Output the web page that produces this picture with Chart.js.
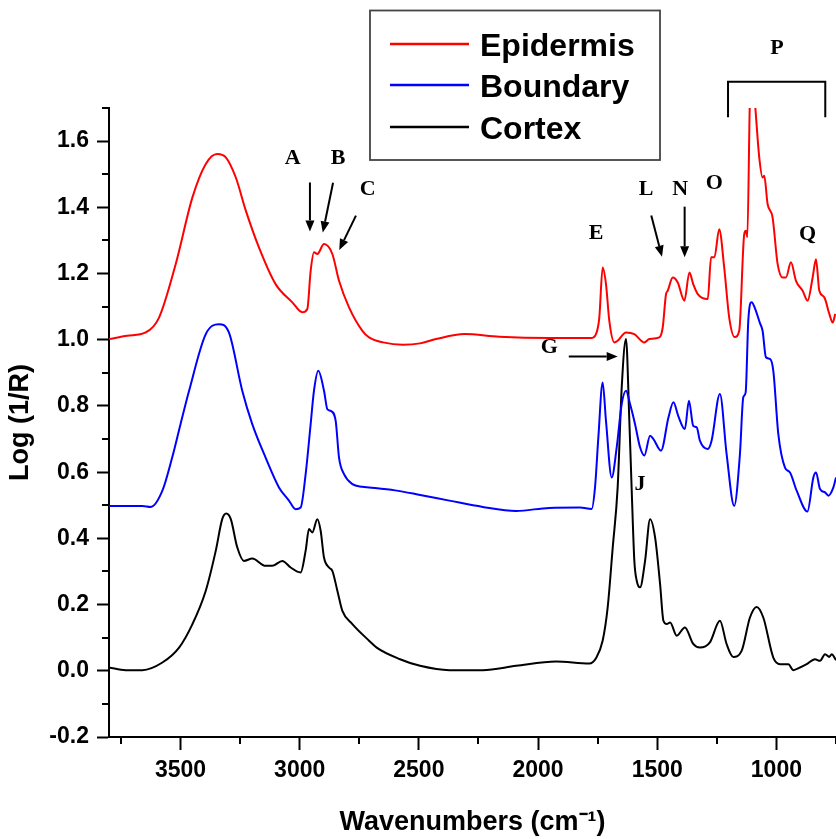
<!DOCTYPE html>
<html>
<head>
<meta charset="utf-8">
<script src="https://cdn.jsdelivr.net/npm/chart.js@4.4.1/dist/chart.umd.min.js"></script>
<style>
  html, body { margin: 0; padding: 0; background: #ffffff; }
  #wrap { width: 836px; height: 839px; }
</style>
</head>
<body>
<div id="wrap"><canvas id="c" width="836" height="839"></canvas></div>
<script>
// ---------- DATA ----------
const seriesNames = ['Epidermis', 'Boundary', 'Cortex'];

const epidermisWavenumbers = [3800,3723,3646,3590,3520,3450,3394,3346,3310,3268,3226,3171,3101,3031,2989,2968,2954,2940,2926,2898,2863,2835,2793,2737,2709,2650,2567,2495,2428,2309,2163,1953,1778,1757,1743,1729,1715,1701,1680,1666,1631,1596,1554,1533,1491,1477,1463,1456,1435,1414,1386,1365,1349,1330,1288,1274,1260,1240,1219,1198,1175,1156,1135,1128,1122,1110,1100,1093,1072,1058,1051,1037,1016,995,974,960,939,918,890,869,848,834,820,799,778,764,753];
const epidermisValues = [1.002,1.012,1.022,1.067,1.229,1.430,1.531,1.561,1.551,1.490,1.390,1.279,1.168,1.113,1.083,1.093,1.208,1.264,1.259,1.289,1.259,1.178,1.098,1.027,1.007,0.992,0.985,0.989,1.002,1.017,1.009,1.005,1.005,1.017,1.067,1.218,1.168,1.057,0.992,0.997,1.022,1.017,0.992,1.002,1.007,1.037,1.138,1.148,1.188,1.173,1.118,1.203,1.168,1.138,1.123,1.249,1.249,1.334,1.218,1.067,1.008,1.027,1.319,1.329,1.310,1.750,1.780,1.740,1.551,1.490,1.495,1.410,1.369,1.229,1.188,1.188,1.234,1.178,1.148,1.118,1.188,1.243,1.148,1.128,1.078,1.052,1.078];

const boundaryWavenumbers = [3800,3660,3625,3576,3535,3500,3464,3394,3339,3297,3241,3199,3143,3087,3045,3017,2996,2975,2954,2940,2922,2898,2884,2870,2849,2835,2814,2779,2737,2709,2600,2500,2372,2232,2092,1953,1824,1775,1761,1747,1729,1715,1691,1670,1649,1631,1614,1593,1572,1554,1530,1516,1484,1453,1432,1412,1384,1367,1349,1334,1321,1288,1272,1237,1209,1177,1153,1139,1129,1118,1104,1090,1069,1058,1044,1027,1013,992,964,943,915,870,845,834,817,796,782,761,750];
const boundaryValues = [0.498,0.498,0.495,0.544,0.644,0.745,0.846,1.017,1.047,1.022,0.846,0.745,0.644,0.554,0.514,0.488,0.493,0.594,0.745,0.846,0.906,0.846,0.790,0.785,0.755,0.644,0.594,0.564,0.556,0.554,0.545,0.532,0.514,0.495,0.483,0.492,0.493,0.489,0.554,0.705,0.871,0.755,0.584,0.675,0.806,0.846,0.806,0.745,0.675,0.650,0.710,0.700,0.665,0.765,0.811,0.770,0.730,0.816,0.740,0.735,0.695,0.670,0.695,0.836,0.655,0.498,0.655,0.826,0.841,1.057,1.113,1.095,1.050,1.027,0.947,0.942,0.906,0.715,0.614,0.599,0.544,0.481,0.584,0.599,0.549,0.539,0.529,0.554,0.584];

const cortexWavenumbers = [3800,3730,3660,3576,3506,3450,3394,3352,3325,3308,3289,3262,3234,3199,3143,3115,3073,3038,2996,2975,2961,2947,2926,2912,2898,2877,2863,2842,2821,2779,2709,2677,2579,2495,2372,2232,2092,1925,1785,1757,1729,1708,1687,1666,1649,1631,1617,1607,1596,1586,1572,1551,1530,1509,1488,1474,1460,1446,1418,1384,1349,1321,1279,1237,1209,1181,1146,1111,1083,1055,1013,985,950,929,901,873,838,817,796,778,768,750];
const cortexValues = [0.010,0.002,0.002,0.025,0.070,0.141,0.242,0.363,0.458,0.475,0.458,0.373,0.332,0.339,0.317,0.317,0.332,0.312,0.297,0.363,0.428,0.418,0.458,0.423,0.342,0.312,0.302,0.242,0.181,0.141,0.091,0.070,0.035,0.015,0.002,0.002,0.015,0.028,0.022,0.038,0.091,0.191,0.370,0.554,0.856,1.002,0.755,0.544,0.332,0.272,0.252,0.332,0.458,0.403,0.262,0.151,0.141,0.146,0.106,0.131,0.081,0.070,0.086,0.151,0.081,0.042,0.060,0.161,0.193,0.161,0.040,0.020,0.020,0.002,0.010,0.020,0.035,0.030,0.050,0.042,0.050,0.032];

const xTickValues = [3750,3500,3250,3000,2750,2500,2250,2000,1750,1500,1250,1000,750];
const xTickLabels = ['3500','3000','2500','2000','1500','1000'];
const yTickValues = [-0.2,-0.1,0.0,0.1,0.2,0.3,0.4,0.5,0.6,0.7,0.8,0.9,1.0,1.1,1.2,1.3,1.4,1.5,1.6,1.7];
const yTickLabels = ['-0.2','0.0','0.2','0.4','0.6','0.8','1.0','1.2','1.4','1.6'];

// peak annotations (text, wavenumber, value)
const peakLabels = [
  ['A', 3029, 1.547], ['B', 2839, 1.547], ['C', 2715, 1.453],
  ['E', 1757, 1.320], ['G', 1953, 0.977], ['L', 1547, 1.455],
  ['N', 1404, 1.455], ['O', 1261, 1.472], ['P', 998, 1.880],
  ['Q', 869, 1.319], ['J', 1572, 0.564]
];
// arrows: [fromWavenumber, fromValue, toWavenumber, toValue]
const peakArrows = [
  [2957, 1.475, 2957, 1.327],
  [2860, 1.474, 2903, 1.324],
  [2764, 1.375, 2834, 1.271],
  [1871, 0.949, 1666, 0.949],
  [1525, 1.375, 1480, 1.251],
  [1385, 1.402, 1385, 1.249]
];
// bracket for P: [leftWavenumber, rightWavenumber, topValue, legBottomValue]
const bracketP = [1203, 795, 1.779, 1.672];

// ---------- BUILD ----------
function pts(xs, ys) { return xs.map((x, i) => ({ x: x, y: ys[i] })); }
const colors = ['#ff0000', '#0000ff', '#000000'];
const seriesData = [
  pts(epidermisWavenumbers, epidermisValues),
  pts(boundaryWavenumbers, boundaryValues),
  pts(cortexWavenumbers, cortexValues)
];

const isMajorX = v => xTickLabels.indexOf(String(v)) >= 0;
const fmtY = v => (Math.round(v * 10) / 10).toFixed(1);
const isMajorY = v => yTickLabels.indexOf(fmtY(v)) >= 0;

const axisFont = { family: 'Liberation Sans, Arial, sans-serif', weight: 'bold', size: 23 };
const titleFont = { family: 'Liberation Sans, Arial, sans-serif', weight: 'bold', size: 27 };

const extrasPlugin = {
  id: 'extras',
  afterDraw(chart) {
    const ctx = chart.ctx;
    const xs = chart.scales.x, ys = chart.scales.y;
    const area = chart.chartArea;
    ctx.save();
    // minor ticks
    ctx.strokeStyle = '#000'; ctx.lineWidth = 2;
    xTickValues.forEach(v => {
      if (isMajorX(v)) return;
      const px = Math.round(xs.getPixelForValue(v));
      ctx.beginPath(); ctx.moveTo(px, area.bottom); ctx.lineTo(px, area.bottom + 7); ctx.stroke();
    });
    yTickValues.forEach(v => {
      if (isMajorY(v)) return;
      const py = Math.round(ys.getPixelForValue(v));
      ctx.beginPath(); ctx.moveTo(area.left - 7, py); ctx.lineTo(area.left, py); ctx.stroke();
    });

    // legend box
    const lx = 370, ly = 10.5, lw = 290, lh = 149.5;
    ctx.fillStyle = '#fff'; ctx.fillRect(lx, ly, lw, lh);
    ctx.strokeStyle = '#444'; ctx.lineWidth = 1.8; ctx.strokeRect(lx, ly, lw, lh);
    const rowsY = [44, 85, 127];
    chart.data.datasets.forEach((ds, i) => {
      const y = rowsY[i];
      ctx.strokeStyle = ds.borderColor; ctx.lineWidth = 2.5;
      ctx.beginPath(); ctx.moveTo(390, y); ctx.lineTo(469, y); ctx.stroke();
      ctx.fillStyle = '#000';
      ctx.font = 'bold 32px "Liberation Sans", Arial, sans-serif';
      ctx.textAlign = 'left'; ctx.textBaseline = 'alphabetic';
      ctx.fillText(ds.label, 480, y + 11.5);
    });

    // peak labels
    ctx.fillStyle = '#000';
    ctx.font = 'bold 22px "Liberation Serif", "Times New Roman", serif';
    ctx.textAlign = 'center'; ctx.textBaseline = 'middle';
    peakLabels.forEach(([t, w, v]) => {
      ctx.fillText(t, xs.getPixelForValue(w), ys.getPixelForValue(v));
    });
    // arrows
    peakArrows.forEach(([w1, v1, w2, v2]) => {
      const x1 = xs.getPixelForValue(w1), y1 = ys.getPixelForValue(v1);
      const x2 = xs.getPixelForValue(w2), y2 = ys.getPixelForValue(v2);
      const ang = Math.atan2(y2 - y1, x2 - x1);
      const hl = 11, hw = 4.5;
      const bx = x2 - hl * Math.cos(ang), by = y2 - hl * Math.sin(ang);
      ctx.strokeStyle = '#000'; ctx.lineWidth = 2;
      ctx.beginPath(); ctx.moveTo(x1, y1); ctx.lineTo(bx, by); ctx.stroke();
      ctx.beginPath();
      ctx.moveTo(x2, y2);
      ctx.lineTo(bx + hw * Math.sin(ang), by - hw * Math.cos(ang));
      ctx.lineTo(bx - hw * Math.sin(ang), by + hw * Math.cos(ang));
      ctx.closePath(); ctx.fill();
    });
    // bracket P
    {
      const [wl, wr, vt, vb] = bracketP;
      const xl = xs.getPixelForValue(wl), xr = xs.getPixelForValue(wr);
      const yt = ys.getPixelForValue(vt), yb = ys.getPixelForValue(vb);
      ctx.strokeStyle = '#000'; ctx.lineWidth = 2;
      ctx.beginPath();
      ctx.moveTo(xl, yb); ctx.lineTo(xl, yt); ctx.lineTo(xr, yt); ctx.lineTo(xr, yb);
      ctx.stroke();
    }
    ctx.restore();
  }
};

new Chart(document.getElementById('c'), {
  type: 'line',
  data: {
    datasets: seriesNames.map((name, i) => ({
      label: name,
      data: seriesData[i],
      borderColor: colors[i],
      backgroundColor: colors[i],
      borderWidth: 2,
      pointRadius: 0,
      fill: false,
      cubicInterpolationMode: 'monotone'
    }))
  },
  options: {
    responsive: false,
    animation: false,
    devicePixelRatio: 1,
    layout: { padding: { top: 108, right: 0, bottom: 0, left: 0 } },
    plugins: { legend: { display: false }, tooltip: { enabled: false } },
    scales: {
      x: {
        type: 'linear', reverse: true, min: 750, max: 3800,
        afterBuildTicks: s => { s.ticks = xTickValues.map(v => ({ value: v })); },
        afterFit: s => { s.height = 102; s.paddingLeft = 0; s.paddingRight = 0; },
        ticks: {
          autoSkip: false, maxRotation: 0, padding: 7, color: '#000', font: axisFont,
          callback: v => isMajorX(v) ? String(v) : ''
        },
        grid: {
          drawOnChartArea: false, drawTicks: true, tickLength: 13, tickWidth: 2,
          tickColor: c => (c.tick && isMajorX(c.tick.value)) ? '#000' : 'rgba(0,0,0,0)'
        },
        border: { display: true, color: '#000', width: 2 },
        title: { display: true, text: 'Wavenumbers (cm\u207B\u00B9)', color: '#000', font: titleFont, padding: { top: 0, bottom: 0 } }
      },
      y: {
        type: 'linear', min: -0.2, max: 1.7,
        afterBuildTicks: s => { s.ticks = yTickValues.map(v => ({ value: v })); },
        afterFit: s => { s.width = 109; s.paddingTop = 0; s.paddingBottom = 0; },
        ticks: {
          autoSkip: false, padding: 8, color: '#000', font: axisFont,
          callback: v => isMajorY(v) ? fmtY(v) : ''
        },
        grid: {
          drawOnChartArea: false, drawTicks: true, tickLength: 12, tickWidth: 2,
          tickColor: c => (c.tick && isMajorY(c.tick.value)) ? '#000' : 'rgba(0,0,0,0)'
        },
        border: { display: true, color: '#000', width: 2 },
        title: { display: true, text: 'Log (1/R)', color: '#000', font: titleFont, padding: { top: 4, bottom: 0 } }
      }
    }
  },
  plugins: [extrasPlugin]
});
</script>
</body>
</html>
